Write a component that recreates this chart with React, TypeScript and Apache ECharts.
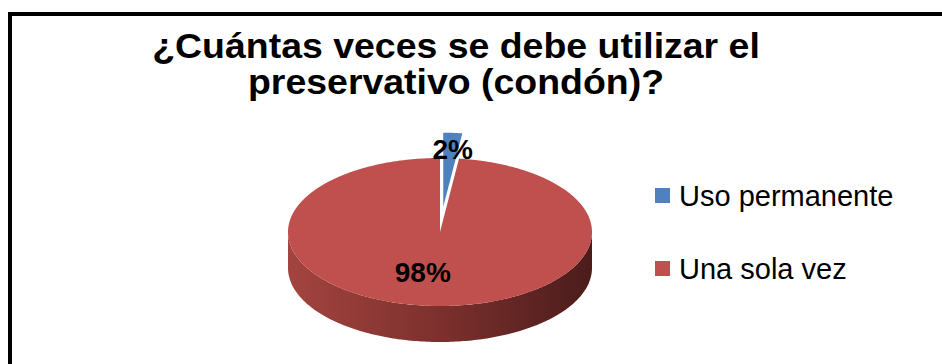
import React, { useEffect, useRef } from "react";
import * as echarts from "echarts";

const titleLines = ["¿Cuántas veces se debe utilizar el", "preservativo (condón)?"];
const categories = ["Uso permanente", "Una sola vez"];
const values = [2, 98];
const colors = ["#4F81BD", "#C0504D"];
const exploded = [true, false];

const FONT = '"Liberation Sans", Arial, sans-serif';

export default function App() {
  const ref = useRef<HTMLDivElement>(null);
  useEffect(() => {
    document.body.style.margin = "0";
    if (!ref.current) return;
    const chart = echarts.init(ref.current, null, { renderer: "svg" });

    const total = values.reduce((a, b) => a + b, 0);
    const cx = 440, cy = 232, rx = 152, ry = 74, depth = 36;
    const explodeDist = 52;
    const labelK = [0.78, 0.55];
    const labelDx = [2, -12];
    const sideColors = [
      ["#3d6697", "#2a4a70"],
      ["#a4443f", "#7c302d", "#4b1c1b"],
    ];
    const rad = (d: number) => (d * Math.PI) / 180;

    const renderSlice = (i: number) => (params: any, api: any) => {
      const before = values.slice(0, i).reduce((a, b) => a + b, 0);
      const start = (before / total) * 360;
      const end = start + (api.value(0) / total) * 360;
      const mid = (start + end) / 2;
      const d = exploded[i] ? explodeDist : 0;
      const ox = cx + d * Math.sin(rad(mid));
      const oy = cy - d * Math.cos(rad(mid)) * (ry / rx);
      const pt = (t: number, dy = 0) => [ox + rx * Math.sin(rad(t)), oy - ry * Math.cos(rad(t)) + dy];
      const children: any[] = [];
      const s0 = Math.max(start, 90), s1 = Math.min(end, 270);
      if (s1 > s0 && !exploded[i]) {
        const pts: number[][] = [];
        for (let t = s0; t <= s1; t += 1) pts.push(pt(t));
        pts.push(pt(s1));
        for (let t = s1; t >= s0; t -= 1) pts.push(pt(t, depth));
        pts.push(pt(s0, depth));
        const stops = sideColors[i].map((c, k, arr) => ({ offset: k / (arr.length - 1), color: c }));
        children.push({
          type: "polygon",
          z2: 1,
          shape: { points: pts },
          style: { fill: new echarts.graphic.LinearGradient(0, 0, 1, 0, stops) },
        });
      }
      const top: number[][] = [[ox, oy]];
      for (let t = start; t < end; t += 0.5) top.push(pt(t));
      top.push(pt(end));
      children.push({
        type: "polygon",
        z2: 2 + i,
        shape: { points: top },
        style: { fill: colors[i] },
      });
      const lx = ox + labelK[i] * rx * Math.sin(rad(mid)) + labelDx[i];
      const ly = oy - labelK[i] * ry * Math.cos(rad(mid));
      children.push({
        type: "text",
        z2: 10,
        x: lx,
        y: ly,
        style: {
          text: Math.round((api.value(0) / total) * 100) + "%",
          fontSize: 28,
          fontWeight: "bold",
          fontFamily: FONT,
          fill: "#000",
          align: "center",
          verticalAlign: "middle",
        },
      });
      return { type: "group", children };
    };

    chart.setOption({
      animation: false,
      color: colors,
      legend: {
        orient: "vertical",
        left: 655,
        top: 181,
        padding: 0,
        itemWidth: 15,
        itemHeight: 15,
        itemGap: 44,
        icon: "rect",
        data: categories,
        textStyle: { fontSize: 29, lineHeight: 28, fontFamily: FONT, color: "#000", padding: [0, 0, 0, 4] },
      },
      graphic: [
        {
          type: "rect",
          shape: { x: 10, y: 14, width: 960, height: 400 },
          style: { fill: "none", stroke: "#000", lineWidth: 4 },
          silent: true,
        },
        ...titleLines.map((t, k) => ({
          type: "text",
          x: 456,
          y: 46 + k * 36,
          scaleX: 1.07,
          style: {
            text: t,
            font: `bold 35px ${FONT}`,
            fill: "#000",
            textAlign: "center",
            textVerticalAlign: "middle",
            align: "center",
            verticalAlign: "middle",
          },
        })),
      ],
      series: categories.map((name, i) => ({
        type: "custom",
        name,
        coordinateSystem: "none",
        itemStyle: { color: colors[i] },
        data: [[values[i]]],
        renderItem: renderSlice(i),
      })),
    });
    return () => chart.dispose();
  }, []);
  return <div ref={ref} style={{ width: 942, height: 364 }} />;
}
